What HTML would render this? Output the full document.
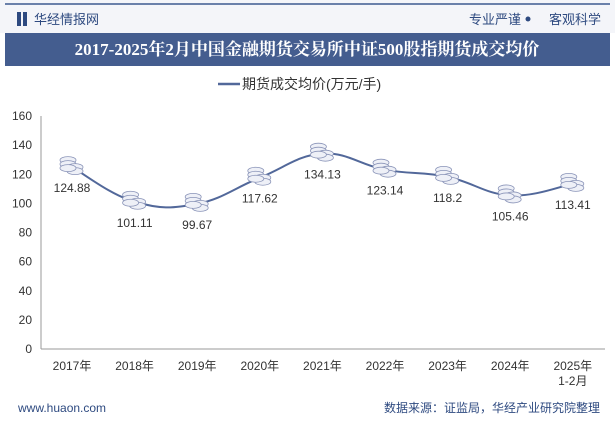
<!DOCTYPE html>
<html><head><meta charset="utf-8"><style>
body{margin:0;width:615px;height:427px;overflow:hidden;background:#fff;font-family:"Liberation Sans","Noto Sans CJK SC",sans-serif}
</style></head><body>
<svg width="615" height="427" xmlns="http://www.w3.org/2000/svg" id="chart">
<rect x="0" y="0" width="615" height="427" fill="#fff"/>
<rect x="0" y="0" width="615" height="33" fill="#f4f5f9"/>
<line x1="5" y1="4" x2="610" y2="4" stroke="#3d5a8f" stroke-width="1.5"/>
<rect x="17" y="12" width="4" height="14" fill="#2e4a80"/><rect x="23" y="12" width="4" height="14" fill="#2e4a80"/>
<text x="34" y="24" font-size="13" fill="#2e4a80">华经情报网</text>
<text x="521" y="24" font-size="13" fill="#2e4a80" text-anchor="end">专业严谨</text>
<circle cx="528" cy="19" r="2.5" fill="#2e4a80"/>
<text x="601" y="24" font-size="13" fill="#2e4a80" text-anchor="end">客观科学</text>
<rect x="5" y="33" width="605" height="33" fill="#445d8f"/>
<text x="307" y="55" font-size="17" font-weight="bold" fill="#fff" text-anchor="middle" font-family="'Liberation Serif','Noto Serif CJK SC',serif">2017-2025年2月中国金融期货交易所中证500股指期货成交均价</text>
<g>
<line x1="218" y1="84" x2="240" y2="84" stroke="#52689a" stroke-width="2.5"/>
<text x="242" y="89" font-size="14" fill="#333">期货成交均价(万元/手)</text>
</g>
<line x1="41" y1="116" x2="41" y2="349" stroke="#999"/>
<line x1="41" y1="349" x2="605" y2="349" stroke="#999"/>
<g id="yt"></g><g id="xt"></g><g id="plot"></g>
<text x="18" y="412" font-size="12" fill="#2e4a80">www.huaon.com</text>
<text x="600" y="412" font-size="12" fill="#2e4a80" text-anchor="end">数据来源：证监局，华经产业研究院整理</text>
</svg>
<script>
const categories=["2017年","2018年","2019年","2020年","2021年","2022年","2023年","2024年","2025年"];
const values=[124.88,101.11,99.67,117.62,134.13,123.14,118.2,105.46,113.41];
const labels=["124.88","101.11","99.67","117.62","134.13","123.14","118.2","105.46","113.41"];
const yTicks=[0,20,40,60,80,100,120,140,160];
const NS="http://www.w3.org/2000/svg";
const y=v=>349-v*233/160;
const x=i=>72+i*62.6;
function mk(t,a,p){const e=document.createElementNS(NS,t);for(const k in a)e.setAttribute(k,a[k]);p.appendChild(e);return e;}
const yt=document.getElementById('yt'),xt=document.getElementById('xt'),pl=document.getElementById('plot');
yTicks.forEach(v=>{const t=mk('text',{x:32,y:y(v)+4,'font-size':12,fill:'#333','text-anchor':'end'},yt);t.textContent=v;

});
categories.forEach((c,i)=>{const t=mk('text',{x:x(i),y:370,'font-size':12,fill:'#333','text-anchor':'middle'},xt);t.textContent=c;


if(i===categories.length-1){const t2=mk('text',{x:x(i),y:385,'font-size':12,fill:'#333','text-anchor':'middle'},xt);t2.textContent='1-2月';}});
const P=values.map((v,i)=>[x(i),y(v)]);
let d='M'+P[0][0]+','+P[0][1];
for(let i=0;i<P.length-1;i++){const p0=P[i-1]||P[i],p1=P[i],p2=P[i+1],p3=P[i+2]||P[i+1];const k=0.2;
d+=' C'+(p1[0]+(p2[0]-p0[0])*k)+','+(p1[1]+(p2[1]-p0[1])*k)+' '+(p2[0]-(p3[0]-p1[0])*k)+','+(p2[1]-(p3[1]-p1[1])*k)+' '+p2[0]+','+p2[1];}
const line=mk('path',{d:d,fill:'none',stroke:'#52689a','stroke-width':2},pl);


P.forEach((p,i)=>{const g=mk('g',{},pl);


[[-6,-7],[-6,-3],[1,0],[1,4],[-6,1]].forEach(o=>mk('ellipse',{cx:p[0]+o[0]+2,cy:p[1]+o[1],rx:8,ry:3.5,fill:'#eef0f7',stroke:'#8a94b8','stroke-width':0.8},g));
const t=mk('text',{x:p[0],y:p[1]+25,'font-size':12,fill:'#333','text-anchor':'middle'},pl);t.textContent=labels[i];

});
</script>
</body></html>
